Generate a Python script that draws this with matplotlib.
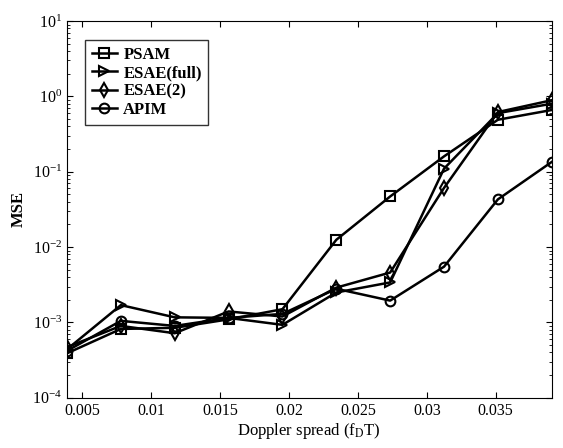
import numpy as np
import matplotlib
matplotlib.use("Agg")
import matplotlib.pyplot as plt
from matplotlib.ticker import LogLocator, FixedLocator, NullFormatter

plt.rcParams['font.family'] = ['Liberation Serif', 'DejaVu Serif']
plt.rcParams['mathtext.fontset'] = 'stix'

# Doppler spread values k/256, k = 1..10
fdT = np.arange(1, 11) / 256.0

psam = [3.9e-4, 8.2e-4, 8.5e-4, 1.1e-3, 1.5e-3, 1.25e-2, 4.7e-2, 0.16, 0.49, 0.66]
esae_full = [4.4e-4, 1.7e-3, 1.17e-3, 1.15e-3, 9.3e-4, 2.5e-3, 3.4e-3, 0.11, 0.6, 0.8]
esae_2 = [4.7e-4, 9.0e-4, 7.2e-4, 1.4e-3, 1.2e-3, 2.9e-3, 4.6e-3, 0.061, 0.62, 0.89]
apim = [4.2e-4, 1.05e-3, 9.0e-4, 1.15e-3, 1.3e-3, 2.8e-3, 1.95e-3, 5.5e-3, 0.043, 0.135]

labels = ['PSAM', 'ESAE(full)', 'ESAE(2)', 'APIM']
markers = ['s', '>', 'd', 'o']
series = [psam, esae_full, esae_2, apim]

fig = plt.figure(figsize=(5.63, 4.48), dpi=100)
ax = fig.add_axes([0.119, 0.112, 0.861, 0.841])

for y, lab, m in zip(series, labels, markers):
    ax.semilogy(fdT, y, marker=m, color='black', lw=1.8, markersize=7,
                markerfacecolor='none', markeredgewidth=1.5, label=lab)

ax.set_xlim(1 / 256, 10 / 256)
ax.set_ylim(1e-4, 10)
ax.xaxis.set_major_locator(FixedLocator([0.005, 0.01, 0.015, 0.02, 0.025, 0.03, 0.035]))
ax.set_xticklabels(['0.005', '0.01', '0.015', '0.02', '0.025', '0.03', '0.035'])
ax.yaxis.set_major_locator(LogLocator(base=10, numticks=10))
ax.yaxis.set_minor_locator(LogLocator(base=10, subs=np.arange(2, 10), numticks=10))
ax.yaxis.set_minor_formatter(NullFormatter())
ax.tick_params(which='both', direction='in', top=True, right=True, labelsize=11.5)
ax.tick_params(which='major', length=4)
ax.tick_params(which='minor', length=2)

ax.set_xlabel('Doppler spread (f$_\\mathrm{D}$T)', fontsize=12, labelpad=2)
ax.set_ylabel('MSE', fontsize=12, fontweight='bold')

leg = ax.legend(loc='upper left', bbox_to_anchor=(0.037, 0.95), borderaxespad=0,
                prop={'size': 12, 'weight': 'bold'},
                frameon=True, fancybox=False, edgecolor='black', handlelength=1.5,
                borderpad=0.4, labelspacing=0.15, handletextpad=0.4)
leg.get_frame().set_linewidth(1.0)

fig.savefig('out.png', dpi=100)
